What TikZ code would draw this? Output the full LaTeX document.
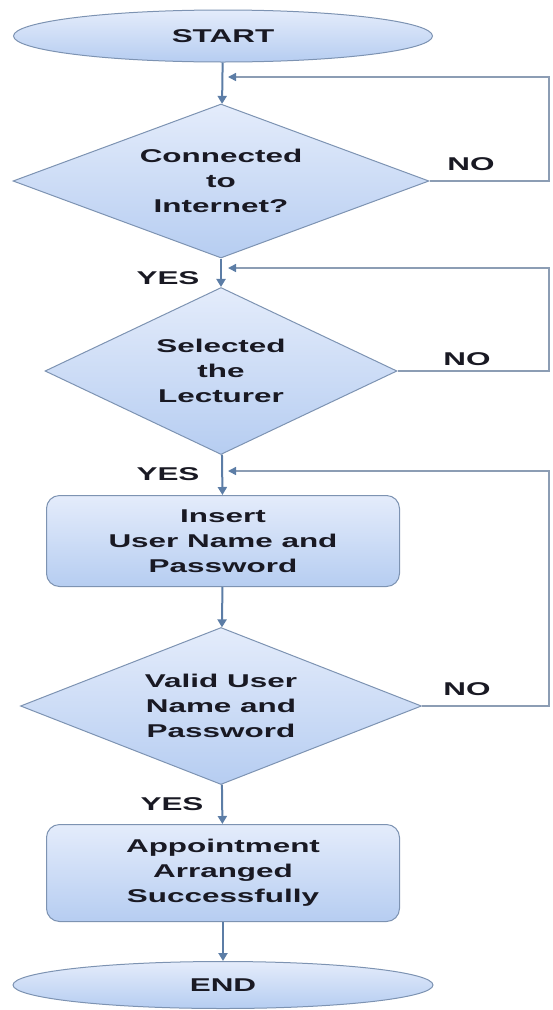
\documentclass[tikz,border=0pt]{standalone}
\usepackage{fontspec}
\newfontfamily\flowfont{Liberation Sans}[FakeStretch=1.7]
\usepackage{tikz}
\usetikzlibrary{arrows.meta,shapes.geometric}

\definecolor{flowfill}{RGB}{228,236,251}
\definecolor{flowshade}{RGB}{182,205,241}
\definecolor{flowedge}{RGB}{125,147,178}
\definecolor{flowline}{RGB}{92,125,166}
\definecolor{loopline}{RGB}{140,157,180}
\definecolor{flowtext}{RGB}{25,25,35}

\tikzset{
    flowtxt/.style={font=\flowfont\bfseries\fontsize{18.5}{25}\selectfont, text=flowtext, align=center},
    terminal/.style={ellipse, draw=flowedge, line width=1pt, top color=flowfill, bottom color=flowshade, inner sep=0pt, flowtxt},
    decision/.style={diamond, shape aspect=2.5, draw=flowedge, line width=1pt, top color=flowfill, bottom color=flowshade, inner sep=0pt, flowtxt},
    process/.style={rectangle, rounded corners=13pt, draw=flowedge, line width=1pt, top color=flowfill, bottom color=flowshade, minimum width=353pt, inner sep=0pt, flowtxt},
    mainarrow/.style={draw=flowline, line width=2pt, -{Triangle[length=8pt,width=9pt]}},
    backarrow/.style={draw=loopline, line width=1.5pt, -{Triangle[length=8pt,width=8pt,color=flowline]}},
    answer/.style={flowtxt}
}

\begin{document}
\begin{tikzpicture}[x=1pt,y=-1pt]
    \useasboundingbox (0,0) rectangle (552,1010);
    \node[terminal, minimum width=419pt, minimum height=52pt] (start) at (223,36) {START};
    \node[decision, minimum width=416pt, minimum height=154pt] (q1) at (221,181) {Connected\\to\\Internet?};
    \node[decision, minimum width=352pt, minimum height=167pt] (q2) at (221,371) {Selected\\the\\Lecturer};
    \node[process, minimum height=91pt] (login) at (223,541) {Insert\\User Name and\\Password};
    \node[decision, minimum width=401pt, minimum height=157pt] (q3) at (221,706) {Valid User\\Name and\\Password};
    \node[process, minimum height=97pt] (done) at (223,873) {Appointment\\Arranged\\Successfully};
    \node[terminal, minimum width=420pt, minimum height=47pt] (end) at (223,985) {END};

    \node[answer] (no1) at (471,164) {NO};
    \node[answer] (no2) at (467,359) {NO};
    \node[answer] (no3) at (467,689) {NO};
    \node[answer] (yes1) at (168,278) {YES};
    \node[answer] (yes2) at (168,474) {YES};
    \node[answer] (yes3) at (172,804) {YES};

    \coordinate (r1) at (549,77);
    \coordinate (j1) at (228,77);
    \coordinate (r2) at (549,268);
    \coordinate (j2) at (228,268);
    \coordinate (r3) at (549,471);
    \coordinate (j3) at (228,471);

    \draw[mainarrow] (start) -- (q1);
    \draw[mainarrow] (q1) -- (q2);
    \draw[mainarrow] (q2) -- (login);
    \draw[mainarrow] (login) -- (q3);
    \draw[mainarrow] (q3) -- (done);
    \draw[mainarrow] (done) -- (end);

    \draw[backarrow] (q1.east) -| (r1) -- (j1);
    \draw[backarrow] (q2.east) -| (r2) -- (j2);
    \draw[backarrow] (q3.east) -| (r3) -- (j3);
    \end{tikzpicture}
\end{document}
